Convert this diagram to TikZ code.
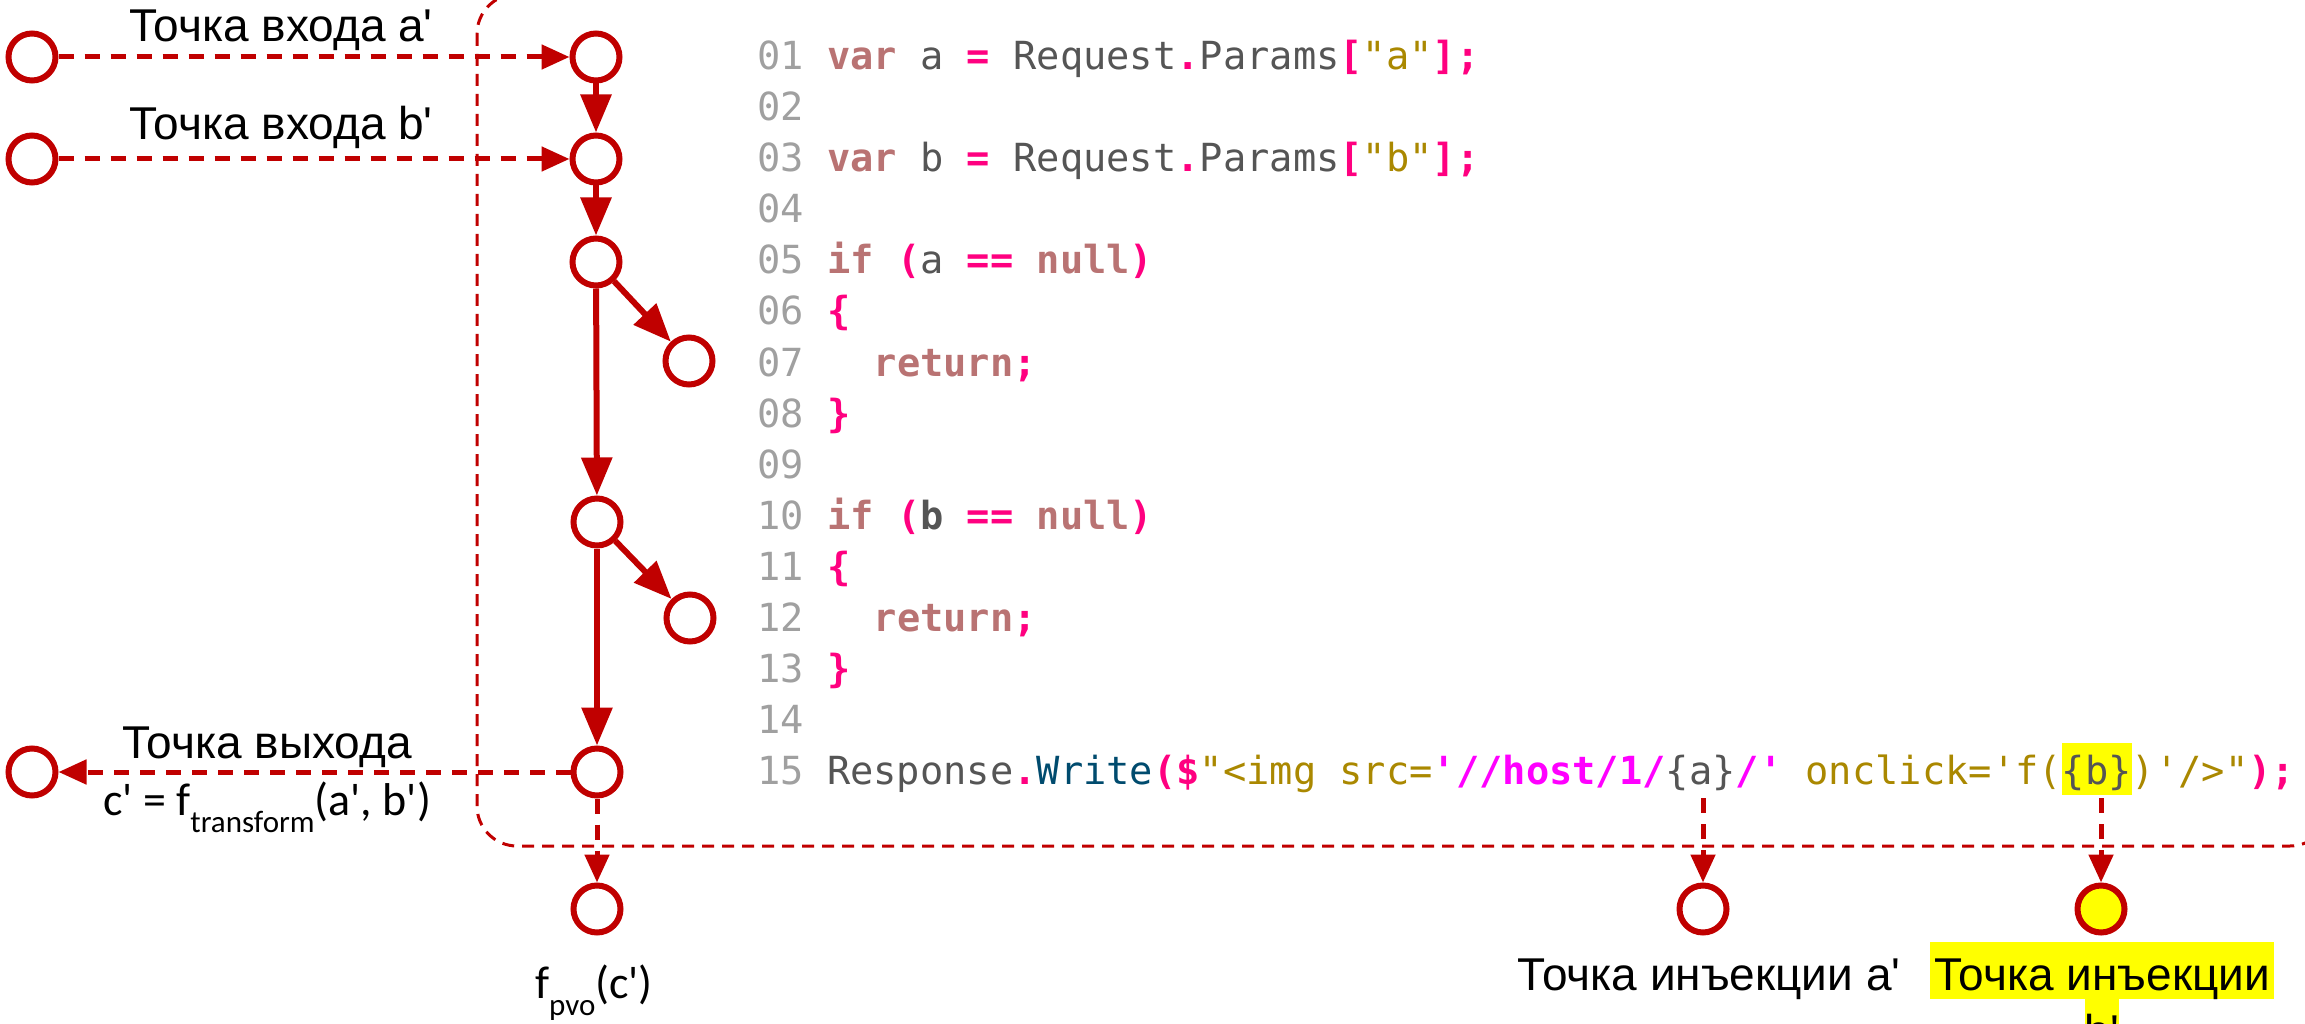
\documentclass[tikz,border=0pt]{standalone}
\usepackage{fontspec}
\usetikzlibrary{arrows.meta}
\newfontfamily\labfont[Ligatures=TeXOff]{Liberation Sans}
\newfontfamily\frmfont[Ligatures=TeXOff]{Carlito}
\newfontfamily\codefont[Ligatures=TeXOff]{DejaVu Sans Mono}
\definecolor{arc}{RGB}{192,0,0}
\definecolor{lnum}{RGB}{160,160,160}
\definecolor{kw}{RGB}{185,115,115}
\definecolor{idt}{RGB}{85,85,85}
\definecolor{op}{RGB}{255,0,128}
\definecolor{str}{RGB}{170,136,0}
\definecolor{mth}{RGB}{0,75,110}
\definecolor{url}{RGB}{255,0,255}
\definecolor{hl}{RGB}{255,255,0}
% syntax colouring of the C# listing
\newcommand\cnum[1]{\textcolor{lnum}{#1}}
\newcommand\ckw[1]{\textcolor{kw}{\bfseries #1}}
\newcommand\cid[1]{\textcolor{idt}{#1}}
\newcommand\cidb[1]{\textcolor{idt}{\bfseries #1}}
\newcommand\cop[1]{\textcolor{op}{\bfseries #1}}
\newcommand\cstr[1]{\textcolor{str}{#1}}
\newcommand\cmth[1]{\textcolor{mth}{#1}}
\newcommand\curl[1]{\textcolor{url}{\bfseries #1}}
\newcommand\lowsub[1]{\raisebox{-17pt}{\fontsize{31}{31}\selectfont #1}}
\setlength\fboxsep{0pt}
\tikzset{
  vtx/.style={circle, draw=arc, line width=6pt, fill=white, minimum size=47pt, inner sep=0pt},
  flow/.style={draw=arc, line width=6pt, -{Triangle[length=38pt,width=30pt]}},
  dflow/.style={draw=arc, line width=5pt, dash pattern=on 15pt off 11pt, -{Triangle[length=28pt,width=24pt]}},
  frame/.style={draw=arc, line width=3pt, dash pattern=on 12pt off 8pt, rounded corners=40pt},
  codeline/.style={anchor=base west, inner sep=0pt, font={\codefont\fontsize{38.7}{46}\selectfont}},
  lab/.style={anchor=base, inner sep=0pt, font={\labfont\fontsize{46}{53}\selectfont}},
  frm/.style={anchor=base, inner sep=0pt, font={\frmfont\fontsize{46}{53}\selectfont}},
  hlab/.style={lab, fill=hl, inner xsep=4pt, inner ysep=0pt, text height=48pt, text depth=9pt},
}
\begin{document}
\begin{tikzpicture}[x=1pt, y=-1pt]
\useasboundingbox (0,0) rectangle (2305,1024);

% region of the analysed method
\draw[frame] (477,-6) rectangle (2330,846);

% listing
\node[codeline] (l01) at (757,70)  {\cnum{01} \ckw{var} \cid{a} \cop{=} \cid{Request}\cop{.}\cid{Params}\cop{[}\cstr{"a"}\cop{];}};
\node[codeline] (l02) at (757,121) {\cnum{02}};
\node[codeline] (l03) at (757,172) {\cnum{03} \ckw{var} \cid{b} \cop{=} \cid{Request}\cop{.}\cid{Params}\cop{[}\cstr{"b"}\cop{];}};
\node[codeline] (l04) at (757,223) {\cnum{04}};
\node[codeline] (l05) at (757,274) {\cnum{05} \ckw{if} \cop{(}\cid{a} \cop{==} \ckw{null}\cop{)}};
\node[codeline] (l06) at (757,325) {\cnum{06} \cop{\{}};
\node[codeline] (l07) at (757,376) {\cnum{07}~~~\ckw{return}\cop{;}};
\node[codeline] (l08) at (757,427) {\cnum{08} \cop{\}}};
\node[codeline] (l09) at (757,478) {\cnum{09}};
\node[codeline] (l10) at (757,529) {\cnum{10} \ckw{if} \cop{(}\cidb{b} \cop{==} \ckw{null}\cop{)}};
\node[codeline] (l11) at (757,580) {\cnum{11} \cop{\{}};
\node[codeline] (l12) at (757,631) {\cnum{12}~~~\ckw{return}\cop{;}};
\node[codeline] (l13) at (757,682) {\cnum{13} \cop{\}}};
\node[codeline] (l14) at (757,733) {\cnum{14}};
\node[codeline] (l15) at (757,784) {\cnum{15} \cid{Response}\cop{.}\cmth{Write}\cop{(\$}\cstr{"<img src=}\curl{'//host/1/}\cid{\{a\}}\curl{/'}\cstr{\ onclick='f(}\colorbox{hl}{\rule[-11pt]{0pt}{52pt}\cid{\{b\}}}\cstr{)'/>"}\cop{);}};

% control-flow vertices
\node[vtx] (ina) at (32,57) {};
\node[vtx] (inb) at (32,159) {};
\node[vtx] (out) at (32,772) {};
\node[vtx] (n1) at (596,57) {};
\node[vtx] (n2) at (596,159) {};
\node[vtx] (n3) at (596,262) {};
\node[vtx] (n4) at (597,522) {};
\node[vtx] (n5) at (597,772) {};
\node[vtx] (n6) at (597,909) {};
\node[vtx] (r1) at (689,361) {};
\node[vtx] (r2) at (690,618) {};
\node[vtx] (inja) at (1703,909) {};
\node[vtx, fill=hl] (injb) at (2101,909) {};
\coordinate (tapa) at (1703,798);
\coordinate (tapb) at (2101,798);

% edges
\draw[dflow] (ina) -- (n1);
\draw[dflow] (inb) -- (n2);
\draw[flow] (n1) -- (n2);
\draw[flow] (n2) -- (n3);
\draw[flow] (n3) -- (r1);
\draw[flow] (n3) -- (n4);
\draw[flow] (n4) -- (r2);
\draw[flow] (n4) -- (n5);
\draw[dflow] (n5) -- (out);
\draw[dflow] (n5) -- (n6);
\draw[dflow] (tapa) -- (inja);
\draw[dflow] (tapb) -- (injb);

% labels
\node[lab] (tina) at (281,42) {Точка входа a'};
\node[lab] (tinb) at (281,140) {Точка входа b'};
\node[lab] (tout) at (267,758) {Точка выхода};
\node[frm] (fout) at (267,815) {c' = f\lowsub{transform}(a', b')};
\node[frm] (fpvo) at (594,998) {f\lowsub{pvo}(c')};
\node[lab] (tinja) at (1709,990) {Точка инъекции a'};
\node[hlab] (tinjb) at (2102,990) {Точка инъекции};
\node[hlab, inner xsep=0pt] (tinjb2) at (2102,1047) {b'};
\end{tikzpicture}
\end{document}
